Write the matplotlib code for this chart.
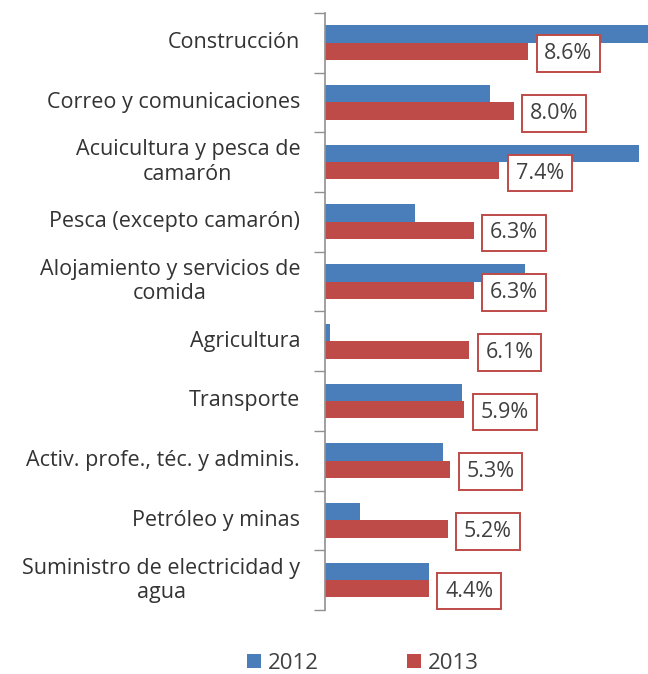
import matplotlib
matplotlib.use('Agg')
import matplotlib.pyplot as plt
import numpy as np

categories = ["Construcción", "Correo y comunicaciones", "Acuicultura y pesca de\ncamarón",
              "Pesca (excepto camarón)", "Alojamiento y servicios de\ncomida", "Agricultura",
              "Transporte", "Activ. profe., téc. y adminis.", "Petróleo y minas",
              "Suministro de electricidad y\nagua"]
v2012 = [14.2, 7.0, 13.3, 3.8, 8.5, 0.2, 5.8, 5.0, 1.5, 4.4]
v2013 = [8.6, 8.0, 7.4, 6.3, 6.3, 6.1, 5.9, 5.3, 5.2, 4.4]

plt.rcParams['font.family'] = ['Open Sans', 'DejaVu Sans']
blue = '#4a7ebb'
red = '#be4b48'
text_col = '#404040'

fig = plt.figure(figsize=(6.48, 6.74), dpi=100)
ax = fig.add_axes([0.5015, 0.095, 0.4985, 0.886])

y = np.arange(len(categories))
h = 0.29
ax.barh(y - h / 2, v2012, height=h, color=blue, label='2012')
ax.barh(y + h / 2, v2013, height=h, color=red, label='2013')

for yi, v in zip(y, v2013):
    ax.text(v + 0.7, yi + h / 2 + 0.04, f"{v:.1f}%", va='center', ha='left', fontsize=15.5,
            color=text_col,
            bbox=dict(boxstyle='square,pad=0.36', facecolor='white', edgecolor=red, linewidth=1.4))

ax.set_xlim(0, 13.7)
ax.set_ylim(len(categories) - 0.5, -0.5)
ax.set_yticks(np.arange(len(categories) + 1) - 0.5)
ax.set_yticklabels([])
ax.tick_params(axis='y', direction='out', length=8, color='#909090', width=1)
ax.set_xticks([])
for s in ['top', 'right', 'bottom']:
    ax.spines[s].set_visible(False)
ax.spines['left'].set_color('#909090')
ax.spines['left'].set_linewidth(1.2)

for yi, cat in enumerate(categories):
    ax.text(-1.05, yi, cat, ha='right', va='center', multialignment='center', fontsize=15.5,
            color='#333333', transform=ax.transData, linespacing=1.2)

handles, labels = ax.get_legend_handles_labels()
fig.legend(handles, labels, loc='center', bbox_to_anchor=(0.56, 0.016), ncol=2, frameon=False,
           fontsize=16, handlelength=0.6, handleheight=0.6, columnspacing=4.0, handletextpad=0.3,
           labelcolor=text_col)

plt.savefig('out.png', dpi=100)
plt.close()
